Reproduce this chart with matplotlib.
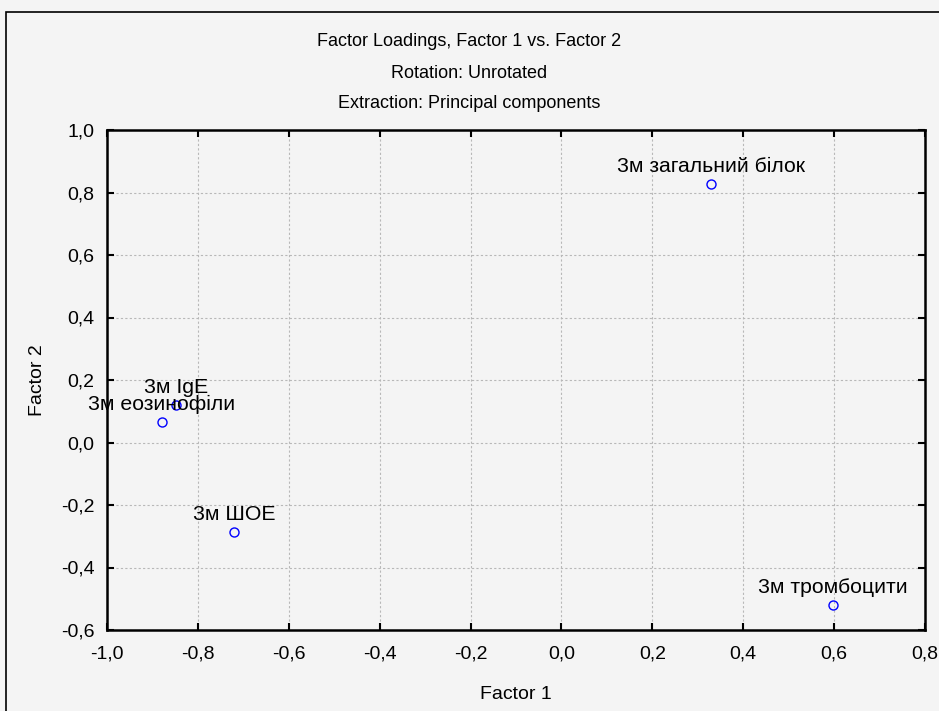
import matplotlib.pyplot as plt
from matplotlib.ticker import FuncFormatter, MultipleLocator
from matplotlib.patches import Rectangle

plt.rcParams['font.family'] = ['Liberation Sans', 'DejaVu Sans']

# factor loadings
labels = ['3м загальний білок', '3м тромбоцити', '3м IgE', '3м еозинофіли', '3м ШОЕ']
factor1 = [0.329, 0.598, -0.848, -0.879, -0.720]
factor2 = [0.827, -0.520, 0.120, 0.066, -0.286]

bg = '#f4f4f4'
fig = plt.figure(figsize=(9.39, 7.11), dpi=100, facecolor=bg)
fig.patches.append(Rectangle((6 / 939, -0.1), 1.1, 1 - 12 / 711 + 0.1,
                             transform=fig.transFigure, fill=False,
                             edgecolor='black', linewidth=1.2))
ax = fig.add_axes([107 / 939, 1 - 630 / 711, 818 / 939, 500 / 711])
ax.set_facecolor(bg)

ax.plot(factor1, factor2, 'o', markersize=6.5, markerfacecolor='none',
        markeredgecolor='#0000ff', markeredgewidth=1)
for lab, x, y in zip(labels, factor1, factor2):
    ax.annotate(lab, (x, y), xytext=(0, 8.5), textcoords='offset points',
                ha='center', va='baseline', fontsize=15.3)

ax.set_xlim(-1.0, 0.8)
ax.set_ylim(-0.6, 1.0)
ax.xaxis.set_major_locator(MultipleLocator(0.2))
ax.yaxis.set_major_locator(MultipleLocator(0.2))
fmt = FuncFormatter(lambda v, p: f'{v:.1f}'.replace('.', ',').replace('-0,0', '0,0'))
ax.xaxis.set_major_formatter(fmt)
ax.yaxis.set_major_formatter(fmt)
ax.grid(True, linestyle=(0, (2, 2)), color='#b8b8b8', linewidth=0.8)
ax.tick_params(direction='in', length=5, width=1.5, top=True, right=True,
               labelsize=14)
ax.tick_params(axis='x', pad=11)
ax.tick_params(axis='y', pad=9)
for s in ax.spines.values():
    s.set_linewidth(1.8)

ax.set_xlabel('Factor 1', fontsize=14, labelpad=17)
ax.set_ylabel('Factor 2', fontsize=14, labelpad=11)

fig.text(0.5, 1 - 42 / 711, 'Factor Loadings, Factor 1 vs. Factor 2', ha='center', va='center', fontsize=13)
fig.text(0.5, 1 - 73 / 711, 'Rotation: Unrotated', ha='center', va='center', fontsize=13)
fig.text(0.5, 1 - 104 / 711, 'Extraction: Principal components', ha='center', va='center', fontsize=13)

fig.savefig('out.png', dpi=100, facecolor=bg)
